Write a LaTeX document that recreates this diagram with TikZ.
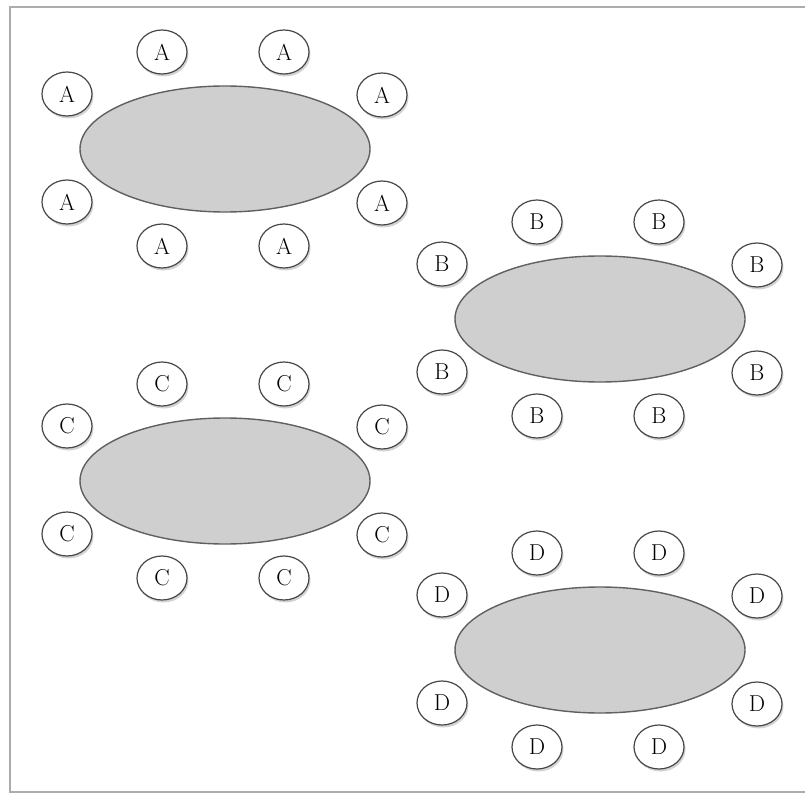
\documentclass[tikz,border=0pt]{standalone}
\usetikzlibrary{shapes.geometric,shadows}

\begin{document}
\begin{tikzpicture}[x=1pt, y=-1pt, font=\fontsize{23}{26}\selectfont,
table/.style={draw=gray!75!black, ellipse, fill=gray!38, line width=1.4pt, minimum width=290pt, minimum height=126pt},
seat/.style={draw=gray!55!black, ellipse, fill=white, line width=1.2pt, minimum width=50pt, minimum height=44pt, inner sep=0pt, text=black,
  drop shadow={opacity=0.35, shadow xshift=1.5pt, shadow yshift=-2.5pt}}]
\useasboundingbox (0,0) rectangle (805,794);
% frame
\draw[gray!65, line width=2pt] (805,7) -- (10,7) -- (10,792) -- (805,792);
% tables
\node[table] (tabA) at (225,149) {};
\node[table] (tabB) at (600,319) {};
\node[table] (tabC) at (225,481) {};
\node[table] (tabD) at (600,650) {};
% seats round each table
\foreach \t/\l in {tabA/A, tabB/B, tabC/C, tabD/D}
  \foreach \dx/\dy [count=\i] in {-63/-97, 59/-97, -158/-55, 157/-54, -158/53, 157/54, -63/97, 59/97}
    \node[seat] (\l\i) at ([shift={(\dx,\dy)}]\t.center) {\l};
\end{tikzpicture}
\end{document}
